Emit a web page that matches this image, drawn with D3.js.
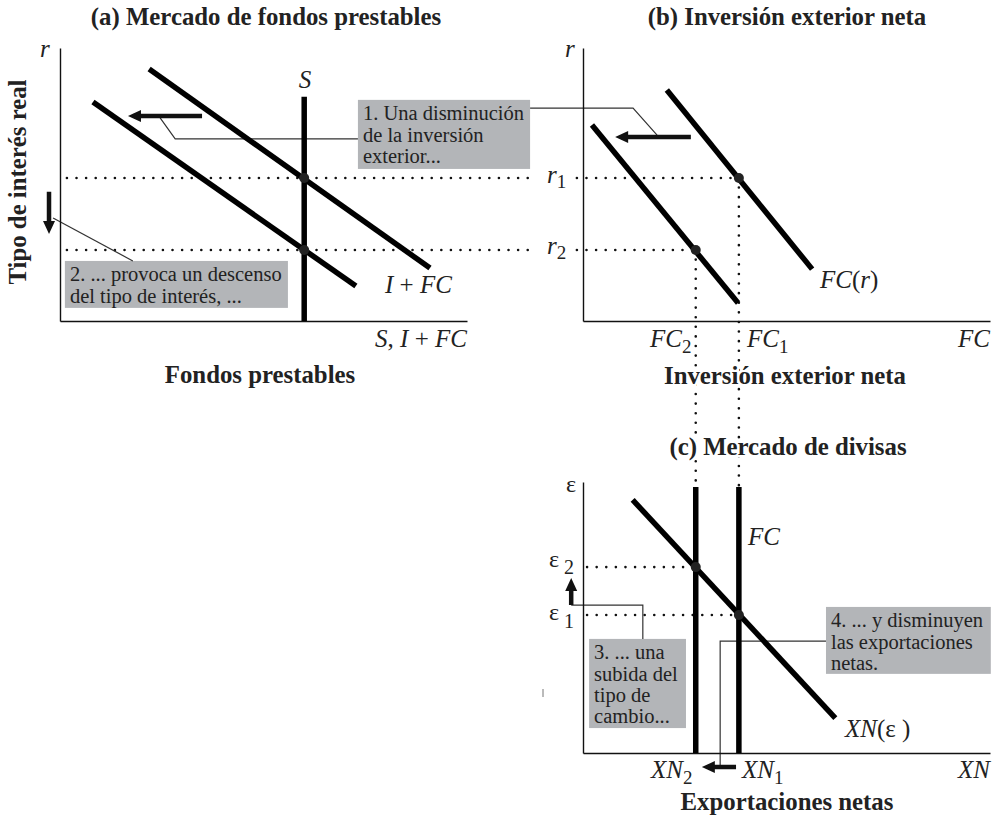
<!DOCTYPE html>
<html>
<head>
<meta charset="utf-8">
<script src="https://cdn.jsdelivr.net/npm/d3@7"></script>
<style>
  body { margin: 0; background: #fff; }
  text { font-family: "Liberation Serif", "Times New Roman", serif; fill: #222; }
  .bold { font-weight: 700; font-size: 24.8px; }
</style>
</head>
<body>
<svg id="chart" width="997" height="819"></svg>
<script>
// ---- data, in model units (0..100 on each axis of each panel) ----
var panelTitles = ["(a) Mercado de fondos prestables", "(b) Inversión exterior neta", "(c) Mercado de divisas"]
var axisTitles = ["Fondos prestables", "Inversión exterior neta", "Exportaciones netas"]
var yTitle = "Tipo de interés real"

var rateLevels = [52.4, 26.0]          // r1, r2
var savingLevel = 60                   // vertical S
var savingTop = 82.1
var demandCurves = [                   // I + FC, before / after the fall
  [[21.9, 92.3], [90.9, 19.4]],
  [[8.1, 80.2], [72.7, 12.8]]
]
var nfiCurves = [                      // FC(r), before / after
  [[20.6, 84.6], [56.3, 19.0]],
  [[2.2, 71.8], [38.1, 6.6]]
]
var nfiLevels = [38.3, 27.7]           // FC1, FC2
var netExportCurve = [[12.2, 93.4], [62.0, 12.9]]
var exchangeLevels = [50.9, 68.6]      // e1, e2
var supplyTop = 98.2

var noteTexts = [
  ["1. Una disminución", "de la inversión", "exterior..."],
  ["2. ... provoca un descenso", "del tipo de interés, ..."],
  ["3. ... una", "subida del", "tipo de", "cambio..."],
  ["4. ... y disminuyen", "las exportaciones", "netas."]
]

// ---- scales ----
var xA = d3.scaleLinear().domain([0, 100]).range([60, 467])
var yA = d3.scaleLinear().domain([0, 100]).range([321, 48])
var xB = d3.scaleLinear().domain([0, 100]).range([583, 990])
var yB = yA
var xC = xB
var yC = d3.scaleLinear().domain([0, 100]).range([753, 482])

var svg = d3.select("#chart")
var under = svg.append("g")
var marks = svg.append("g")
var over = svg.append("g")

// axes: no ticks, only the axis line
function axes(x, y) {
  marks.append("g")
    .attr("transform", "translate(0," + y.range()[0] + ")")
    .call(d3.axisBottom(x).tickValues([]).tickSizeOuter(0))
  marks.append("g")
    .attr("transform", "translate(" + x.range()[0] + ",0)")
    .call(d3.axisLeft(y).tickValues([]).tickSizeOuter(0))
}
axes(xA, yA)
axes(xB, yB)
axes(xC, yC)
svg.selectAll(".domain").attr("stroke", "#111").attr("stroke-width", 1.4)

function curve(pts, x, y) {
  var line = d3.line().x(function(d) { return x(d[0]) }).y(function(d) { return y(d[1]) })
  marks.append("path").attr("d", line(pts))
    .attr("fill", "none").attr("stroke", "#000").attr("stroke-width", 5.5)
}
function dotted(x1, y1, x2, y2) {
  under.append("line").attr("x1", x1).attr("y1", y1).attr("x2", x2).attr("y2", y2)
    .attr("stroke", "#111").attr("stroke-width", 2.6)
    .attr("stroke-linecap", "round").attr("stroke-dasharray", "0 9.6")
}
function dot(px, py) {
  over.append("circle").attr("cx", px).attr("cy", py).attr("r", 5).attr("fill", "#222")
}
function leader(pts, x, y) {
  var line = d3.line().x(function(d) { return x(d[0]) }).y(function(d) { return y(d[1]) })
  under.append("path").attr("d", line(pts))
    .attr("fill", "none").attr("stroke", "#333").attr("stroke-width", 1.2)
}
function arrow(p1, p2, x, y) {
  var x1 = x(p1[0]), y1 = y(p1[1]), x2 = x(p2[0]), y2 = y(p2[1])
  var dx = x2 - x1, dy = y2 - y1, L = Math.hypot(dx, dy)
  var ux = dx / L, uy = dy / L, nx = -uy, ny = ux
  var w = 4.5, hl = 13, hw = 12
  var bx = x2 - ux * hl, by = y2 - uy * hl
  var pts = [
    [x1 + nx * w / 2, y1 + ny * w / 2], [bx + nx * w / 2, by + ny * w / 2],
    [bx + nx * hw / 2, by + ny * hw / 2], [x2, y2],
    [bx - nx * hw / 2, by - ny * hw / 2], [bx - nx * w / 2, by - ny * w / 2],
    [x1 - nx * w / 2, y1 - ny * w / 2]
  ]
  over.append("path").attr("d", "M" + pts.join("L") + "Z").attr("fill", "#111")
}
function note(lines, b, x, y) {
  var x0 = x(b[0]), y0 = y(b[1]), x1 = x(b[2]), y1 = y(b[3])
  under.append("rect").attr("x", x0).attr("y", y0)
    .attr("width", x1 - x0).attr("height", y1 - y0).attr("fill", "#b3b5b8")
  var t = over.append("text").attr("font-size", 20.5)
  lines.forEach(function(s, i) {
    t.append("tspan").attr("x", x0 + 5).attr("y", y0 + 20.5 + i * 21.2).text(s)
  })
}
// parts: [string, flags]  flags: "i" italic, "s" subscript
function label(x, y, parts, o) {
  o = o || {}
  var t = over.append("text").attr("x", x).attr("y", y)
    .attr("font-size", o.size || 25).attr("text-anchor", o.anchor || "start")
  parts.forEach(function(p) {
    var s = t.append("tspan").text(p[0])
    var f = p[1] || ""
    if (f.indexOf("i") >= 0) s.attr("font-style", "italic")
    if (f.indexOf("s") >= 0) s.attr("font-size", o.sub || 19).attr("dy", o.subDy || 6)
  })
  if (o.halo) t.attr("stroke", "#fff").attr("stroke-width", 5).attr("paint-order", "stroke")
  return t
}

// ---- guide lines ----
// r1 and r2 across panels (a) and (b), with a gap for the labels
dotted(xA(1.7), yA(rateLevels[0]), xB(-11.3), yA(rateLevels[0]))
dotted(xB(-1.5), yA(rateLevels[0]), xB(nfiLevels[0]), yA(rateLevels[0]))
dotted(xA(1.7), yA(rateLevels[1]), xB(-11.3), yA(rateLevels[1]))
dotted(xB(-1.5), yA(rateLevels[1]), xB(nfiLevels[1]), yA(rateLevels[1]))
// FC1 and FC2 down into panel (c)
dotted(xB(nfiLevels[0]), yB(rateLevels[0]), xB(nfiLevels[0]), yC(supplyTop))
dotted(xB(nfiLevels[1]), yB(rateLevels[1]), xB(nfiLevels[1]), yC(supplyTop))
// e1 and e2 in panel (c)
dotted(xC(1), yC(exchangeLevels[0]), xC(nfiLevels[0]), yC(exchangeLevels[0]))
dotted(xC(1), yC(exchangeLevels[1]), xC(nfiLevels[1]), yC(exchangeLevels[1]))

// ---- panel (a) ----
curve([[savingLevel, 0], [savingLevel, savingTop]], xA, yA)
demandCurves.forEach(function(c) { curve(c, xA, yA) })
rateLevels.forEach(function(r) { dot(xA(savingLevel), yA(r)) })

// ---- panel (b) ----
nfiCurves.forEach(function(c) { curve(c, xB, yB) })
nfiLevels.forEach(function(f, i) { dot(xB(f), yB(rateLevels[i])) })

// ---- panel (c) ----
nfiLevels.forEach(function(f) { curve([[f, 0], [f, supplyTop]], xC, yC) })
curve(netExportCurve, xC, yC)
nfiLevels.forEach(function(f, i) { dot(xC(f), yC(exchangeLevels[i])) })

// ---- notes, leaders and arrows ----
note(noteTexts[0], [73.2, 81.0, 115.5, 55.7], xA, yA)
note(noteTexts[1], [1.2, 22.0, 56.0, 4.8], xA, yA)
note(noteTexts[2], [1.5, 42.1, 25.3, 9.2], xC, yC)
note(noteTexts[3], [59.7, 53.9, 100.2, 29.2], xC, yC)

leader([[24.6, 74.4], [28.3, 66.7], [73.2, 66.7]], xA, yA)
leader([[-13.0, 78.0], [12.3, 78.0], [18.2, 68.1]], xB, yB)
leader([[-1.7, 37.7], [17.9, 22.0]], xA, yA)
leader([[-2.9, 54.6], [14.7, 54.6], [14.7, 42.1]], xC, yC)
leader([[59.7, 41.3], [33.7, 41.3], [33.7, -5.2]], xC, yC)

arrow([34.9, 75.1], [16.7, 75.1], xA, yA)
arrow([26.5, 67.4], [7.9, 67.4], xB, yB)
arrow([-2.7, 47.3], [-2.7, 31.9], xA, yA)
arrow([-2.9, 54.6], [-2.9, 64.6], xC, yC)
arrow([37.6, -5.2], [29.2, -5.2], xC, yC)

// small stray tick left of panel (c)
under.append("line").attr("x1", 543).attr("x2", 543).attr("y1", 689).attr("y2", 697)
  .attr("stroke", "#777").attr("stroke-width", 1)

// ---- titles ----
over.append("text").attr("class", "bold").attr("x", 266).attr("y", 25)
  .attr("text-anchor", "middle").text(panelTitles[0])
over.append("text").attr("class", "bold").attr("x", 787).attr("y", 25)
  .attr("text-anchor", "middle").text(panelTitles[1])
over.append("text").attr("class", "bold").attr("x", 788).attr("y", 455)
  .attr("text-anchor", "middle").text(panelTitles[2])
  .attr("stroke", "#fff").attr("stroke-width", 5).attr("paint-order", "stroke")
over.append("text").attr("class", "bold").attr("x", 260).attr("y", 383)
  .attr("text-anchor", "middle").text(axisTitles[0])
over.append("text").attr("class", "bold").attr("x", 785).attr("y", 384)
  .attr("text-anchor", "middle").text(axisTitles[1])
  .attr("stroke", "#fff").attr("stroke-width", 5).attr("paint-order", "stroke")
over.append("text").attr("class", "bold").attr("x", 787).attr("y", 810)
  .attr("text-anchor", "middle").text(axisTitles[2])
over.append("text").attr("class", "bold")
  .attr("transform", "translate(26,182) rotate(-90)")
  .attr("text-anchor", "middle").text(yTitle)

// ---- axis and curve labels ----
label(40, 57, [["r", "i"]])
label(305, 88, [["S", "i"]], { anchor: "middle" })
label(385, 293, [["I", "i"], [" + "], ["FC", "i"]])
label(467, 347, [["S", "i"], [", "], ["I", "i"], [" + "], ["FC", "i"]], { anchor: "end" })

label(565, 57, [["r", "i"]])
label(547, 183, [["r", "i"], ["1", "s"]], { subDy: 5 })
label(547, 254, [["r", "i"], ["2", "s"]], { subDy: 5 })
label(650, 347, [["FC", "i"], ["2", "s"]], { halo: true })
label(747, 347, [["FC", "i"], ["1", "s"]], { halo: true })
label(990, 347, [["FC", "i"]], { anchor: "end" })
label(820, 288, [["FC", "i"], ["("], ["r", "i"], [")"]])

label(566, 492, [["ε"]], { size: 24 })
label(549, 567, [["ε"], [" 2", "s"]], { size: 24, sub: 20, subDy: 7 })
label(549, 620, [["ε"], [" 1", "s"]], { size: 24, sub: 20, subDy: 8 })
label(748, 545, [["FC", "i"]])
label(845, 737, [["XN", "i"], ["(ε )"]])
label(651, 778, [["XN", "i"], ["2", "s"]])
label(742, 778, [["XN", "i"], ["1", "s"]])
label(990, 778, [["XN", "i"]], { anchor: "end" })
</script>
</body>
</html>
